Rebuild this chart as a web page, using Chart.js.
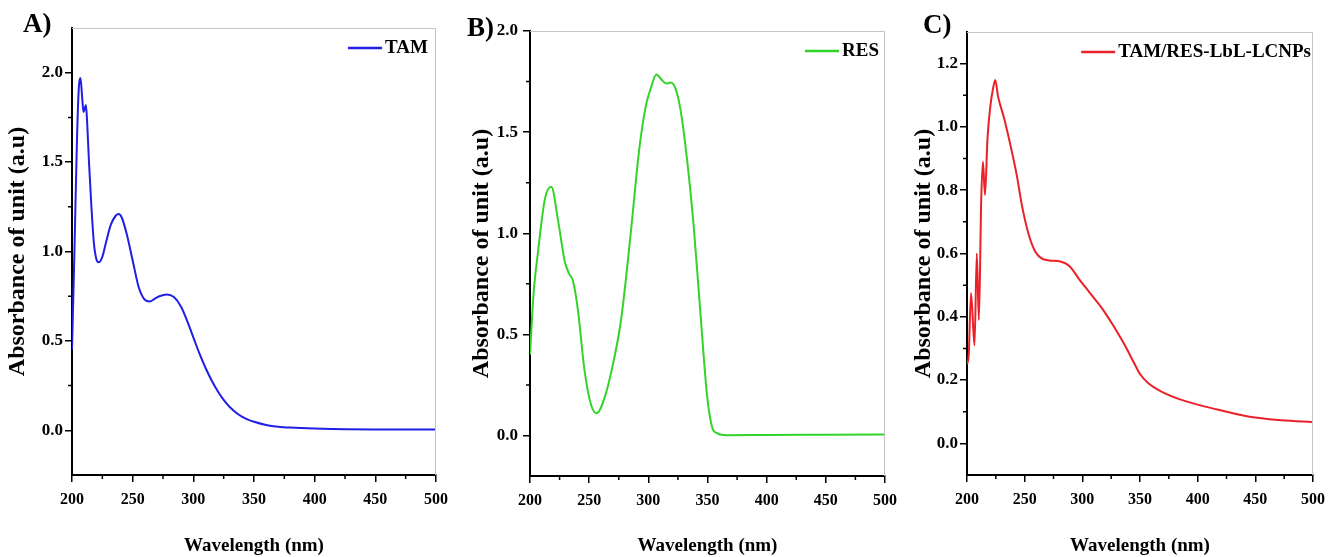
<!DOCTYPE html>
<html>
<head>
<meta charset="utf-8">
<script src="https://cdn.jsdelivr.net/npm/chart.js@4.4.0/dist/chart.umd.min.js"></script>
<style>
  html, body { margin: 0; padding: 0; background: #fff; overflow: hidden; }
  #wrap { position: relative; width: 1333px; height: 557px; }
  canvas { position: absolute; top: 0; }
  .tag { position: absolute; font: bold 27px 'Liberation Serif', 'Times New Roman', serif; color: #000; line-height: 1; }
</style>
</head>
<body>
<div id="wrap">
  <canvas id="chartA" width="460" height="557" style="left:0px"></canvas>
  <canvas id="chartB" width="460" height="557" style="left:445px"></canvas>
  <canvas id="chartC" width="453" height="557" style="left:880px"></canvas>
  <div class="tag" style="left:23px;top:10px">A)</div>
  <div class="tag" style="left:467px;top:14px">B)</div>
  <div class="tag" style="left:923px;top:11px">C)</div>
</div>
<script>
// wavelength ticks shared by all panels
const xTicks = [200, 250, 300, 350, 400, 450, 500];
const xMinor = [225, 275, 325, 375, 425, 475];

// A) TAM
const tamWl  = [200, 202, 204, 205.5, 207, 208.5, 209.5, 210.5, 211.5, 212.5, 214, 216, 218, 220, 222, 225, 228, 232, 236, 238.5, 241, 245, 250, 255, 260, 264, 268, 272, 278, 284, 290, 295, 300, 305, 310, 315, 320, 325, 330, 335, 340, 345, 350, 360, 370, 380, 400, 450, 500];
const tamAbs = [0.45, 1.0, 1.6, 1.9, 1.97, 1.85, 1.78, 1.80, 1.82, 1.72, 1.5, 1.25, 1.05, 0.96, 0.94, 0.97, 1.05, 1.15, 1.20, 1.21, 1.19, 1.10, 0.95, 0.80, 0.73, 0.72, 0.735, 0.75, 0.76, 0.745, 0.69, 0.61, 0.52, 0.43, 0.35, 0.28, 0.22, 0.17, 0.13, 0.10, 0.077, 0.06, 0.048, 0.03, 0.02, 0.015, 0.01, 0.005, 0.005];
const tamY = [0, 0.5, 1.0, 1.5, 2.0];
const tamYMinor = [0.25, 0.75, 1.25, 1.75];

// B) RES
const resWl  = [200, 203, 207, 212.6, 218, 223.8, 229.4, 233, 236.3, 240.5, 246, 251.7, 256.5, 262.9, 268.5, 276.9, 285.3, 292.3, 297.9, 302, 306.8, 311.8, 315.5, 318.8, 323, 327.2, 332.8, 338.4, 344, 349.6, 353.8, 358, 366, 400, 450, 500];
const resAbs = [0.40, 0.70, 0.92, 1.17, 1.23, 1.06, 0.86, 0.80, 0.765, 0.62, 0.325, 0.15, 0.11, 0.185, 0.31, 0.57, 1.01, 1.415, 1.63, 1.715, 1.785, 1.755, 1.74, 1.745, 1.715, 1.61, 1.36, 1.03, 0.607, 0.20, 0.044, 0.012, 0.002, 0.003, 0.004, 0.005];
const resY = [0, 0.5, 1.0, 1.5, 2.0];
const resYMinor = [0.25, 0.75, 1.25, 1.75];

// C) TAM/RES-LbL-LCNPs
const lcnpWl  = [200, 201.5, 203.5, 206.5, 208.5, 210.3, 212.3, 213.8, 215.6, 217.8, 220.4, 222.5, 224.5, 227, 232, 237.5, 243, 248, 253.5, 259, 264, 271, 281, 289, 297, 306, 318, 326, 337, 345, 350, 357, 369, 388, 417, 445, 473, 500];
const lcnpAbs = [0.25, 0.28, 0.475, 0.31, 0.60, 0.39, 0.765, 0.89, 0.785, 0.966, 1.07, 1.12, 1.148, 1.095, 1.03, 0.945, 0.85, 0.745, 0.66, 0.607, 0.586, 0.578, 0.575, 0.56, 0.52, 0.478, 0.422, 0.377, 0.309, 0.253, 0.219, 0.191, 0.163, 0.135, 0.107, 0.084, 0.073, 0.067];
const lcnpY = [0, 0.2, 0.4, 0.6, 0.8, 1.0, 1.2];
const lcnpYMinor = [0.1, 0.3, 0.5, 0.7, 0.9, 1.1];

const serif = "'Liberation Serif', 'Times New Roman', serif";

// top/right frame, minor ticks and the line legend
const framePlugin = {
  id: 'frame',
  afterDatasetsDraw(chart, args, opts) {
    const ctx = chart.ctx, a = chart.chartArea;
    const xs = chart.scales.x, ys = chart.scales.y;
    ctx.save();
    ctx.strokeStyle = '#c4c4c4';
    ctx.lineWidth = 1;
    ctx.beginPath();
    ctx.moveTo(a.left, a.top + 0.5);
    ctx.lineTo(a.right - 0.5, a.top + 0.5);
    ctx.lineTo(a.right - 0.5, a.bottom);
    ctx.stroke();

    ctx.strokeStyle = '#000';
    ctx.lineWidth = 1.5;
    ctx.beginPath();
    xMinor.forEach(v => {
      const px = xs.getPixelForValue(v);
      ctx.moveTo(px, a.bottom);
      ctx.lineTo(px, a.bottom + 4);
    });
    opts.yMinor.forEach(v => {
      const py = ys.getPixelForValue(v);
      ctx.moveTo(a.left, py);
      ctx.lineTo(a.left - 4, py);
    });
    ctx.stroke();

    // legend
    const ds = chart.data.datasets[0];
    ctx.font = 'bold 19px ' + serif;
    ctx.textBaseline = 'middle';
    ctx.fillStyle = '#000';
    const tw = ctx.measureText(ds.label).width;
    const tx = a.right - opts.legendRight - tw;
    const ly = a.top + 20;
    ctx.fillText(ds.label, tx, ly);
    ctx.strokeStyle = ds.borderColor;
    ctx.lineWidth = 2.5;
    ctx.beginPath();
    ctx.moveTo(tx - 37, ly);
    ctx.lineTo(tx - 3, ly);
    ctx.stroke();
    ctx.restore();
  }
};

function makePanel(id, p) {
  new Chart(document.getElementById(id), {
    type: 'line',
    data: {
      datasets: [{
        label: p.label,
        data: p.wl.map((w, i) => ({ x: w, y: p.abs[i] })),
        borderColor: p.color,
        borderWidth: 2,
        pointRadius: 0,
        cubicInterpolationMode: 'monotone',
        fill: false
      }]
    },
    options: {
      responsive: false,
      animation: false,
      layout: { padding: { top: p.top, right: p.right, left: 0, bottom: 0 } },
      plugins: {
        legend: { display: false },
        tooltip: { enabled: false },
        frame: { yMinor: p.yMinor, legendRight: p.legendRight }
      },
      scales: {
        x: {
          type: 'linear',
          min: 200,
          max: 500,
          afterBuildTicks: s => { s.ticks = xTicks.map(v => ({ value: v })); },
          afterFit: s => { s.height = 557 - p.bottom; },
          grid: { drawOnChartArea: false, tickLength: 7, color: '#000', lineWidth: 1.5 },
          border: { color: '#000', width: 2 },
          ticks: { padding: 8, color: '#000', maxRotation: 0, font: { family: serif, size: 16, weight: 'bold' } },
          title: { display: true, text: 'Wavelength (nm)', color: '#000', padding: { top: 0, bottom: 0 }, font: { family: serif, size: 19, weight: 'bold' } }
        },
        y: {
          min: p.yMin,
          max: p.yMax,
          afterBuildTicks: s => { s.ticks = p.yTicks.map(v => ({ value: v })); },
          afterFit: s => { s.width = p.axisW; },
          grid: { drawOnChartArea: false, tickLength: 7, color: '#000', lineWidth: 1.5 },
          border: { color: '#000', width: 2 },
          ticks: { padding: p.yPad, color: '#000', callback: v => v.toFixed(1), font: { family: serif, size: 17, weight: 'bold' } },
          title: { display: true, text: 'Absorbance of unit (a.u)', color: '#000', padding: { top: p.titlePad, bottom: 0 }, font: { family: serif, size: 24, weight: 'bold' } }
        }
      }
    },
    plugins: [framePlugin]
  });
}

makePanel('chartA', {
  label: 'TAM', color: '#1f1fe6', wl: tamWl, abs: tamAbs,
  yMin: -0.25, yMax: 2.25, yTicks: tamY, yMinor: tamYMinor,
  axisW: 72, top: 28, right: 24, bottom: 475, yPad: 2, titlePad: 3, legendRight: 8
});
makePanel('chartB', {
  label: 'RES', color: '#33d42a', wl: resWl, abs: resAbs,
  yMin: -0.2, yMax: 2.0, yTicks: resY, yMinor: resYMinor,
  axisW: 85, top: 31, right: 17, bottom: 476, yPad: 5, titlePad: 22, legendRight: 6
});
makePanel('chartC', {
  label: 'TAM/RES-LbL-LCNPs', color: '#ea2128', wl: lcnpWl, abs: lcnpAbs,
  yMin: -0.1, yMax: 1.3, yTicks: lcnpY, yMinor: lcnpYMinor,
  axisW: 87, top: 32, right: 11, bottom: 475, yPad: 2, titlePad: 29, legendRight: 2
});
</script>
</body>
</html>
